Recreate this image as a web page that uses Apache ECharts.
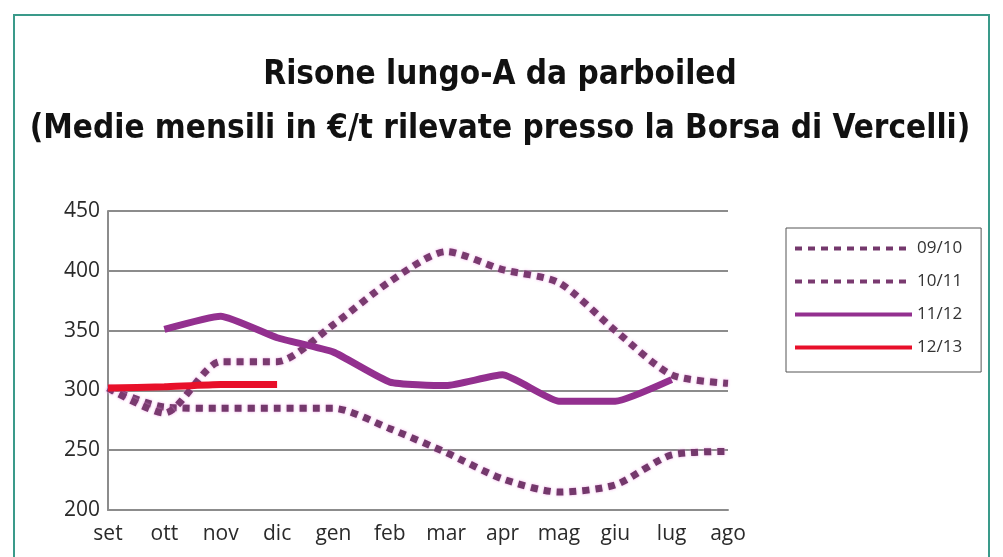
<!DOCTYPE html>
<html>
<head>
<meta charset="utf-8">
<script src="https://cdn.jsdelivr.net/npm/echarts@6/dist/echarts.min.js"></script>
<style>
html,body{margin:0;padding:0;background:#fff;}
#chart{width:1003px;height:557px;}
</style>
</head>
<body>
<div id="chart"></div>
<script>
const categories = ['set','ott','nov','dic','gen','feb','mar','apr','mag','giu','lug','ago'];
const seriesNames = ['09/10','10/11','11/12','12/13'];
const s0910 = [302,286,285,285,285,268,248,226,215,221,246,249];
const s1011 = [302,281,324,324,355,391,416,401,390,350,313,306];
const s1112 = [null,351,362,344,332,307,304,313,291,291,309,null];
const s1213 = [302,303,305,305,null,null,null,null,null,null,null,null];
const yTicks = [200,250,300,350,400,450];

const chart = echarts.init(document.getElementById('chart'));
const dotted = (color) => ({
  color: color, width: 7, type: [7,6], cap: 'butt',
  shadowColor: 'rgba(235,150,225,0.8)', shadowBlur: 3
});
chart.setOption({
  backgroundColor: '#ffffff',
  animation: false,
  title: {
    text: 'Risone lungo-A da parboiled\n(Medie mensili in €/t rilevate presso la Borsa di Vercelli)',
    left: 495, top: 43, textAlign: 'center',
    textStyle: {
      fontFamily: '"Liberation Sans Narrow", "DejaVu Sans Condensed", "Noto Sans", sans-serif',
      fontSize: 33, fontWeight: 'bold', color: '#111', lineHeight: 54
    }
  },
  graphic: [{
    type: 'rect',
    shape: { x: 14, y: 15, width: 975, height: 600 },
    style: { fill: 'none', stroke: '#3a9a8a', lineWidth: 2 }
  }],
  legend: {
    orient: 'vertical', left: 786, top: 228,
    padding: [12, 19, 16, 7],
    borderColor: '#555', borderWidth: 1,
    itemWidth: 117, itemHeight: 14, itemGap: 16,
    data: seriesNames,
    lineStyle: { width: 4 },
    itemStyle: { color: 'transparent', borderWidth: 0 },
    textStyle: { fontFamily: '"Open Sans", sans-serif', fontSize: 17, color: '#333' }
  },
  grid: { left: 108, right: 275, top: 211, bottom: 47, containLabel: false },
  xAxis: {
    type: 'category', data: categories, boundaryGap: false,
    axisLine: { show: true, lineStyle: { color: '#8c8c8c', width: 2 } },
    axisTick: { show: false },
    axisLabel: { fontFamily: '"Open Sans", sans-serif', fontSize: 21, color: '#2a2a2a', margin: 14 }
  },
  yAxis: {
    type: 'value', min: yTicks[0], max: yTicks[yTicks.length-1], interval: 50,
    axisLine: { show: true, lineStyle: { color: '#8c8c8c', width: 2 } },
    axisTick: { show: false },
    splitLine: { lineStyle: { color: '#8c8c8c', width: 2 } },
    axisLabel: { fontFamily: '"Open Sans", sans-serif', fontSize: 21, color: '#2a2a2a', margin: 8 }
  },
  series: [
    { name: seriesNames[0], type: 'line', data: s0910, symbol: 'none', smooth: 0.25,
      lineStyle: dotted('#74386c'), itemStyle: { color: '#74386c' } },
    { name: seriesNames[1], type: 'line', data: s1011, symbol: 'none', smooth: 0.25,
      lineStyle: dotted('#7a3a70'), itemStyle: { color: '#7a3a70' } },
    { name: seriesNames[2], type: 'line', data: s1112, symbol: 'none', smooth: 0.15,
      lineStyle: { color: '#93308f', width: 7 }, itemStyle: { color: '#93308f' } },
    { name: seriesNames[3], type: 'line', data: s1213, symbol: 'none', smooth: 0.15,
      lineStyle: { color: '#e8102a', width: 7 }, itemStyle: { color: '#e8102a' } }
  ]
});
</script>
</body>
</html>
